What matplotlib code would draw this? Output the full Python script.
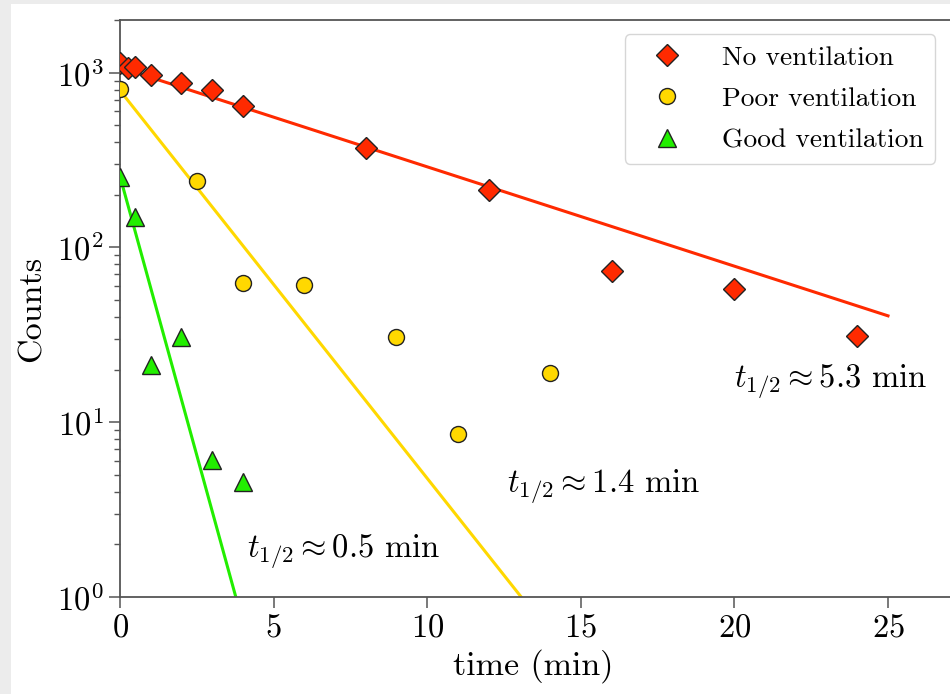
import numpy as np
import matplotlib
matplotlib.use('Agg')
import matplotlib.pyplot as plt
from matplotlib.patches import Rectangle

plt.rcParams['font.family'] = 'serif'
plt.rcParams['font.serif'] = ['cmr10']
plt.rcParams['mathtext.fontset'] = 'cm'
plt.rcParams['axes.formatter.use_mathtext'] = True
plt.rcParams['font.size'] = 23.5

t_none = [0, 0.25, 0.5, 1, 2, 3, 4, 8, 12, 16, 20, 24]
c_none = [1140, 1067, 1081, 973, 875, 798, 647, 372, 214, 73.5, 58, 31.2]

t_poor = [0, 2.5, 4, 6, 9, 11, 14]
c_poor = [809, 241, 62.7, 61, 30.8, 8.57, 19.2]

t_good = [0, 0.5, 1, 2, 3, 4]
c_good = [254, 150, 21.3, 30.7, 6.08, 4.55]

# fitted exponential decays (straight lines on log axis), end points
fit_none_t = [0, 25]
fit_none_c = [1070, 40.6]
fit_poor_t = [0, 13.06]
fit_poor_c = [790, 1.0]
fit_good_t = [0, 3.77]
fit_good_c = [255, 1.0]

half_lives = ['5.3', '1.4', '0.5']

red = '#ff2a00'
yellow = '#ffd800'
green = '#22ee00'
spine_col = '#555555'

W, H = 950, 694
fig = plt.figure(figsize=(W / 100, H / 100), dpi=100)
fig.patch.set_facecolor('#ececec')
fig.add_artist(Rectangle((11 / W, 0), 1 - 11 / W, (H - 4) / H, transform=fig.transFigure,
                         facecolor='white', edgecolor='none', zorder=-10))

xmax = 27.5
px_per_unit = 30.72
ax = fig.add_axes([120 / W, (H - 597) / H, xmax * px_per_unit / W, 577 / H])
ax.set_facecolor('none')

ax.plot(fit_none_t, fit_none_c, color=red, lw=2.2, zorder=2)
ax.plot(fit_poor_t, fit_poor_c, color=yellow, lw=2.2, zorder=2)
ax.plot(fit_good_t, fit_good_c, color=green, lw=2.2, zorder=2)

ax.plot(t_none, c_none, 'D', ms=11.5, mfc=red, mec='#222222', mew=1.0, ls='none',
        label='No ventilation', zorder=3)
ax.plot(t_poor, c_poor, 'o', ms=11.5, mfc=yellow, mec='#222222', mew=1.0, ls='none',
        label='Poor ventilation', zorder=3)
ax.plot(t_good, c_good, '^', ms=12.5, mfc=green, mec='#222222', mew=1.0, ls='none',
        label='Good ventilation', zorder=3)

ax.set_yscale('log')
ax.set_ylim(1, 2000)
ax.set_xlim(0, xmax)
ax.set_xticks([0, 5, 10, 15, 20, 25])

ax.text(20.0, 17.0, r'$t_{1/2} \approx ' + half_lives[0] + r'$ min', va='center')
ax.text(12.6, 4.27, r'$t_{1/2} \approx ' + half_lives[1] + r'$ min', va='center')
ax.text(4.15, 1.82, r'$t_{1/2} \approx ' + half_lives[2] + r'$ min', va='center')

for s in ['left', 'bottom', 'top']:
    ax.spines[s].set_color(spine_col)
    ax.spines[s].set_linewidth(1.3)
ax.spines['right'].set_visible(False)
ax.tick_params(which='major', direction='out', length=8, width=1.1, color=spine_col, pad=4)
ax.tick_params(which='minor', direction='out', length=4.3, width=1.0, color=spine_col)
ax.tick_params(axis='x', which='minor', length=0)

ax.set_xlabel('time (min)', fontsize=24.5)
ax.set_ylabel('Counts', fontsize=24.5)
ax.xaxis.set_label_coords((533 - 120) / (xmax * px_per_unit), -0.09)
ax.yaxis.set_label_coords(-(120 - 47) / (xmax * px_per_unit), 0.5)

ax.legend(loc='upper right', bbox_to_anchor=(935 / W, (H - 34) / H),
          bbox_transform=fig.transFigure, fontsize=19.8, borderpad=0.42,
          labelspacing=0.62, handletextpad=0.9, handlelength=2.2, borderaxespad=0)

fig.savefig('out.png', dpi=100, facecolor=fig.get_facecolor())
